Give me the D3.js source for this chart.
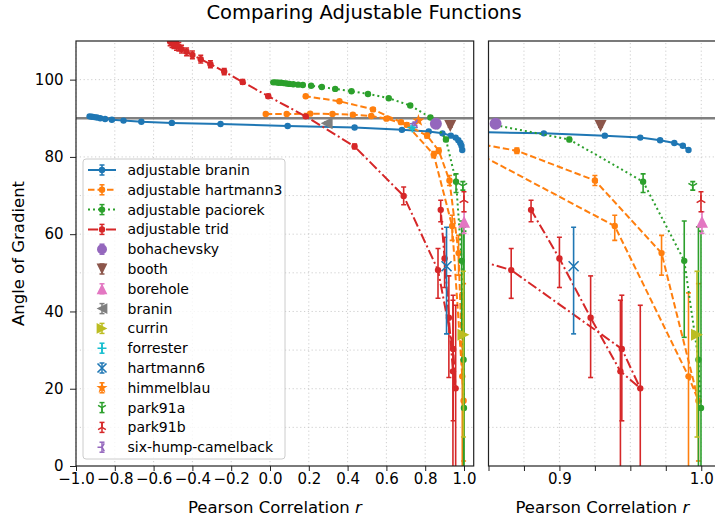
<!DOCTYPE html>
<html><head><meta charset="utf-8">
<script src="https://cdn.jsdelivr.net/npm/d3@7"></script>
<style>body{margin:0;background:#fff} svg{display:block;font-family:"DejaVu Sans",sans-serif}</style>
</head><body><svg id="c" width="715" height="519"></svg>
<script>
// ---------------- data ----------------
const titleText = "Comparing Adjustable Functions";
const xLabelText = "Pearson Correlation ";
const yLabelText = "Angle of Gradient";
const leftXTicks = [-1.0,-0.8,-0.6,-0.4,-0.2,0.0,0.2,0.4,0.6,0.8,1.0];
const rightXTicks = [0.85,0.875,0.9,0.925,0.95,0.975,1.0];
const rightXLabels = [0.9,1.0];
const yTicks = [0,20,40,60,80,100];
const yGrid = [10,20,30,40,50,60,70,80,90,100];
const refAngle = [90];

const branin_r = [-0.930,-0.918,-0.905,-0.892,-0.875,-0.850,-0.815,-0.755,-0.663,-0.506,-0.255,0.091,0.436,0.680,0.818,0.889,0.932,0.957,0.971,0.981,0.987,0.991];
const branin_angle = [90.5,90.4,90.3,90.2,90.0,89.8,89.6,89.4,89.1,88.8,88.5,88.0,87.6,87.0,86.6,86.1,85.5,85.0,84.3,83.6,82.9,81.8];
const branin_lo = [90.2,90.1,90.0,89.9,89.7,89.5,89.3,89.1,88.8,88.5,88.2,87.7,87.3,86.7,86.3,85.8,85.2,84.7,84.0,83.3,82.6,81.5];
const branin_hi = [90.8,90.7,90.6,90.5,90.3,90.1,89.9,89.7,89.4,89.1,88.8,88.3,87.9,87.3,86.9,86.4,85.8,85.3,84.6,83.9,83.2,82.1];

const hartmann3_r = [-0.022,0.086,0.207,0.322,0.427,0.522,0.600,0.705,0.844,0.939,0.991,0.998,0.972,0.925,0.870,0.810,0.675,0.531,0.358,0.184];
const hartmann3_angle = [91.1,91.1,91.2,91.1,90.9,90.6,89.9,88.3,80.6,62.1,23.2,16.9,55.1,73.9,81.6,85.5,89.0,92.3,94.4,95.7];
const hartmann3_lo = [90.8,90.8,90.9,90.8,90.6,90.3,89.5,87.8,79.8,58.4,-1.0,1.3,49.4,72.6,80.9,84.9,88.6,91.9,94.1,95.4];
const hartmann3_hi = [91.4,91.4,91.5,91.4,91.2,90.9,90.3,88.8,81.4,64.9,44.8,47.2,59.7,75.2,82.3,86.1,89.4,92.7,94.7,96.0];

const paciorek_r = [0.017,0.030,0.043,0.056,0.070,0.085,0.100,0.120,0.145,0.169,0.212,0.267,0.336,0.420,0.505,0.612,0.723,0.827,0.907,0.959,0.988,0.998,0.9998];
const paciorek_angle = [99.3,99.3,99.2,99.2,99.1,99.0,98.9,98.8,98.7,98.6,98.4,98.1,97.6,97.0,96.3,95.2,93.3,90.2,84.5,73.6,53.1,27.5,15.0];
const paciorek_lo = [99.1,99.1,99.0,99.0,98.9,98.8,98.7,98.6,98.5,98.4,98.2,97.9,97.4,96.8,96.1,95.0,93.0,89.8,84.0,70.8,33.3,-1.0,-1.0];
const paciorek_hi = [99.5,99.5,99.4,99.4,99.3,99.2,99.1,99.0,98.9,98.8,98.6,98.3,97.8,97.2,96.5,95.4,93.6,90.6,85.0,75.6,63.4,61.9,60.8];

const trid_r = [-0.515,-0.505,-0.495,-0.482,-0.470,-0.456,-0.430,-0.400,-0.357,-0.307,-0.236,-0.141,-0.009,0.184,0.436,0.689,0.866,0.944,0.957,0.943,0.922,0.900,0.880];
const trid_angle = [109.9,109.4,109.2,108.7,108.5,107.9,107.2,106.4,105.3,104.0,102.1,99.4,95.7,90.5,82.7,69.9,50.7,30.3,20.1,24.5,38.4,53.7,66.3];
const trid_lo = [108.8,108.3,108.1,107.6,107.4,106.9,106.2,105.4,104.3,103.1,101.3,98.8,95.2,90.1,82.1,67.6,43.4,11.7,-1.0,-1.0,22.9,46.2,63.2];
const trid_hi = [111.0,110.5,110.3,109.8,109.6,108.9,108.2,107.4,106.3,104.9,102.9,100.0,96.2,90.9,83.3,72.2,56.3,44.2,41.6,42.9,49.2,59.2,68.8];

const single_names = ["bohachevsky","booth","borehole","branin","currin","forrester","hartmann6","himmelblau","park91a","park91b","six-hump-camelback"];
const single_r = [0.855,0.929,1.0005,0.292,0.997,0.734,0.910,0.765,0.994,0.9998,0.747];
const single_angle = [88.6,88.0,63.2,88.7,34.0,87.6,51.7,89.4,72.5,68.8,88.6];
const single_lo = [88.3,87.7,60.2,88.4,7.5,87.2,34.2,89.0,71.4,65.8,88.2];
const single_hi = [88.9,88.3,65.8,89.0,50.4,88.0,61.8,89.8,73.6,71.0,89.0];

// ---------------- styles ----------------
const C = {blue:'#1f77b4',orange:'#ff7f0e',green:'#2ca02c',red:'#d62728',purple:'#9467bd',brown:'#8c564b',pink:'#e377c2',gray:'#7f7f7f',olive:'#bcbd22',cyan:'#17becf'};
const lineSeries = [
  {name:'adjustable branin', r:branin_r, a:branin_angle, lo:branin_lo, hi:branin_hi, color:C.blue, dash:null},
  {name:'adjustable hartmann3', r:hartmann3_r, a:hartmann3_angle, lo:hartmann3_lo, hi:hartmann3_hi, color:C.orange, dash:'6.5,3'},
  {name:'adjustable paciorek', r:paciorek_r, a:paciorek_angle, lo:paciorek_lo, hi:paciorek_hi, color:C.green, dash:'2,3'},
  {name:'adjustable trid', r:trid_r, a:trid_angle, lo:trid_lo, hi:trid_hi, color:C.red, dash:'10,3,2,3'}
];
const singleStyles = [
  {color:C.purple, m:'o'},{color:C.brown, m:'v'},{color:C.pink, m:'^'},{color:C.gray, m:'<'},
  {color:C.olive, m:'>'},{color:C.cyan, m:'+'},{color:C.blue, m:'x'},{color:C.orange, m:'*'},
  {color:C.green, m:'1'},{color:C.red, m:'2'},{color:C.purple, m:'3'}
];
const singles = single_names.map((n,i)=>({name:n, r:single_r[i], a:single_angle[i], lo:single_lo[i], hi:single_hi[i], ...singleStyles[i]}));

function markerPath(m, s){
  const c = 0.866;
  switch(m){
    case 'o': return `M${s},0A${s},${s} 0 1,1 ${-s},0A${s},${s} 0 1,1 ${s},0Z`;
    case 'v': return `M0,${s}L${-s},${-s}L${s},${-s}Z`;
    case '^': return `M0,${-s}L${-s},${s}L${s},${s}Z`;
    case '<': return `M${-s},0L${s},${-s}L${s},${s}Z`;
    case '>': return `M${s},0L${-s},${-s}L${-s},${s}Z`;
    case '+': return `M${-s},0L${s},0M0,${-s}L0,${s}`;
    case 'x': return `M${-s},${-s}L${s},${s}M${-s},${s}L${s},${-s}`;
    case '1': return `M0,0L0,${s}M0,0L${-c*s},${-s/2}M0,0L${c*s},${-s/2}`;
    case '2': return `M0,0L0,${-s}M0,0L${-c*s},${s/2}M0,0L${c*s},${s/2}`;
    case '3': return `M0,0L${-s},0M0,0L${s/2},${-c*s}M0,0L${s/2},${c*s}`;
    case '*': {
      let p=''; for(let k=0;k<10;k++){const rr=k%2?s*0.4:s; const an=-Math.PI/2+k*Math.PI/5; p+=(k?'L':'M')+(rr*Math.cos(an)).toFixed(2)+','+(rr*Math.sin(an)).toFixed(2);} return p+'Z';
    }
  }
}
const strokeMarkers = ['+','x','1','2','3'];
const singleSize = {o:6,v:6,'^':6,'<':6,'>':6,'+':5,'x':5,'*':6.5,'1':5,'2':5,'3':5};

function drawMarker(g, m, color, x, y, s){
  const p = g.append('path').attr('d', markerPath(m, s)).attr('transform', `translate(${x},${y})`);
  if (strokeMarkers.includes(m)) p.attr('fill','none').attr('stroke',color).attr('stroke-width',1.6);
  else p.attr('fill',color).attr('stroke','none');
}
function drawErr(g, color, x, y1, y2, cap, w){
  g.append('line').attr('x1',x).attr('x2',x).attr('y1',y1).attr('y2',y2).attr('stroke',color).attr('stroke-width',w);
  [y1,y2].forEach(yy=>g.append('line').attr('x1',x-cap).attr('x2',x+cap).attr('y1',yy).attr('y2',yy).attr('stroke',color).attr('stroke-width',w));
}

// ---------------- chart ----------------
const svg = d3.select('#c');
svg.append('rect').attr('width',715).attr('height',519).attr('fill','#fff');
const yS = d3.scaleLinear().domain([0,110]).range([466,41]);
const fmt = d3.format('.1f');
const panels = [
  {id:'pL', x:d3.scaleLinear().domain([-1,1.05]).range([76,473.7]), ticks:leftXTicks, labels:leftXTicks, yAxis:true},
  {id:'pR', x:d3.scaleLinear().domain([0.85,1.0106]).range([488.5,716.3]), ticks:rightXTicks, labels:rightXLabels, yAxis:false}
];
const defs = svg.append('defs');

panels.forEach(P=>{
  const x = P.x;
  const [x0,x1] = x.range();
  const [yb,yt] = yS.range();
  defs.append('clipPath').attr('id','clip'+P.id).append('rect').attr('x',x0).attr('y',yt).attr('width',x1-x0).attr('height',yb-yt);
  const g = svg.append('g');
  // grid
  const grid = g.append('g').attr('stroke','#c8c8c8').attr('stroke-width',0.9).attr('stroke-dasharray','1.2,2.6');
  P.ticks.forEach(t=>grid.append('line').attr('x1',x(t)).attr('x2',x(t)).attr('y1',yb).attr('y2',yt));
  yGrid.forEach(t=>grid.append('line').attr('x1',x0).attr('x2',x1).attr('y1',yS(t)).attr('y2',yS(t)));
  // reference line
  const dg = g.append('g').attr('clip-path',`url(#clip${P.id})`);
  refAngle.forEach(v=>dg.append('line').attr('x1',x0).attr('x2',x1).attr('y1',yS(v)).attr('y2',yS(v)).attr('stroke','#808080').attr('stroke-width',2.6));
  // line series
  lineSeries.forEach(S=>{
    const pts = S.r.map((r,i)=>({r, a:S.a[i], lo:S.lo[i], hi:S.hi[i]}));
    const sg = dg.append('g');
    pts.forEach(p=>drawErr(sg, S.color, x(p.r), yS(p.lo), yS(p.hi), 2.5, 1.6));
    sg.append('path').datum(pts).attr('d', d3.line().x(d=>x(d.r)).y(d=>yS(d.a)))
      .attr('fill','none').attr('stroke',S.color).attr('stroke-width',2).attr('stroke-dasharray',S.dash);
    pts.forEach(p=>drawMarker(sg,'o',S.color,x(p.r),yS(p.a),3.2));
  });
  // single functions
  singles.forEach(S=>{
    const sg = dg.append('g');
    drawErr(sg, S.color, x(S.r), yS(S.lo), yS(S.hi), 2.5, 1.6);
    drawMarker(sg, S.m, S.color, x(S.r), yS(S.a), singleSize[S.m]);
  });
  // spines
  g.append('rect').attr('x',x0).attr('y',yt).attr('width',x1-x0).attr('height',yb-yt).attr('fill','none').attr('stroke','#222').attr('stroke-width',1.2);
  // x axis
  const ax = g.append('g').attr('transform',`translate(0,${yb})`)
    .call(d3.axisBottom(x).tickValues(P.ticks).tickFormat(d=>P.labels.includes(d)?fmt(d):'').tickSize(5).tickPadding(2));
  ax.select('.domain').remove();
  ax.selectAll('text').attr('font-size',15).attr('font-family','DejaVu Sans').attr('fill','#000');
  ax.selectAll('line').attr('stroke','#222');
  // x label
  const lx = g.append('text').attr('x',(x0+x1)/2).attr('y',513).attr('text-anchor','middle').attr('font-size',16.5);
  lx.append('tspan').text(xLabelText);
  lx.append('tspan').attr('font-style','italic').text('r');
  if (P.yAxis){
    const ay = g.append('g').attr('transform',`translate(${x0},0)`)
      .call(d3.axisLeft(yS).tickValues(yTicks).tickFormat(d3.format('d')).tickSize(6).tickPadding(6.5));
    ay.select('.domain').remove();
    ay.selectAll('text').attr('font-size',15).attr('font-family','DejaVu Sans').attr('fill','#000');
    ay.selectAll('line').attr('stroke','#222');
  }
});

// y label
svg.append('text').attr('transform','translate(24,253.5) rotate(-90)').attr('text-anchor','middle').attr('font-size',16.5).text(yLabelText);
// title
svg.append('text').attr('x',364).attr('y',19).attr('text-anchor','middle').attr('font-size',19.5).text(titleText);

// legend
const lg = svg.append('g');
lg.append('rect').attr('x',83).attr('y',159).attr('width',202).attr('height',300).attr('rx',3)
  .attr('fill','#fff').attr('fill-opacity',0.8).attr('stroke','#cccccc').attr('stroke-width',1);
const entries = [...lineSeries.map(s=>({...s, kind:'line'})), ...singles.map(s=>({...s, kind:'single'}))];
entries.forEach((E,i)=>{
  const cy = 170 + i*19.8;
  const eg = lg.append('g');
  if (E.kind==='line'){
    eg.append('line').attr('x1',88).attr('x2',116).attr('y1',cy).attr('y2',cy).attr('stroke',E.color).attr('stroke-width',2).attr('stroke-dasharray',E.dash);
    drawErr(eg, E.color, 102, cy-5, cy+5, 2.5, 1.5);
    drawMarker(eg,'o',E.color,102,cy,3.2);
  } else {
    drawErr(eg, E.color, 102, cy-5, cy+5, 2.5, 1.5);
    drawMarker(eg, E.m, E.color, 102, cy, E.m==='o'?5:singleSize[E.m]*0.9);
  }
  eg.append('text').attr('x',127.5).attr('y',cy+5).attr('font-size',14).text(E.name);
});
</script></body></html>
